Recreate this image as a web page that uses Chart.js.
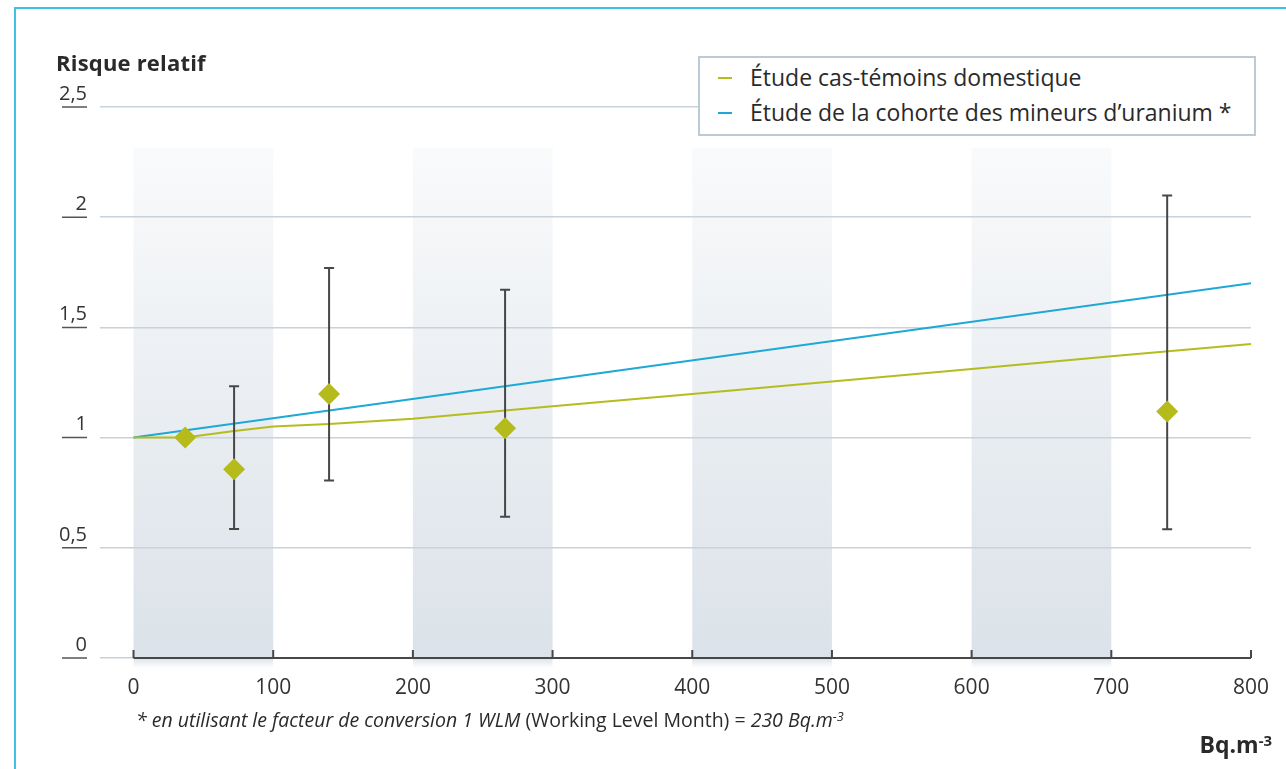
<!DOCTYPE html>
<html lang="fr">
<head>
<meta charset="utf-8">
<title>Risque relatif</title>
<script src="https://cdn.jsdelivr.net/npm/chart.js@4.4.1/dist/chart.umd.min.js"></script>
<style>
    body { margin: 0; background: #fff; overflow: hidden; font-family: 'Open Sans', sans-serif; color: #2a2a2a; }
    #page { position: relative; width: 1286px; height: 769px; }
    #cadre { position: absolute; left: 14px; top: 7px; width: 1300px; height: 800px;
             border-top: 2px solid #41c1e4; border-left: 2px solid #41c1e4; }
    canvas { position: absolute; left: 0; top: 0; }
    #titreY { position: absolute; left: 56px; top: 47px; font-weight: bold; font-size: 22px; letter-spacing: 0.2px; }
    #legende { position: absolute; left: 698px; top: 56px; width: 554px; height: 76px;
               border: 2px solid #bccbd3; background: #fff; font-size: 23px; }
    #legende div { position: absolute; left: 50px; white-space: nowrap; }
    #legende span { position: absolute; left: -32px; top: 16px; width: 14px; height: 2px; }
    #uniteX { position: absolute; right: 14px; top: 728px; font-weight: bold; font-size: 23px; }
    #uniteX sup, #note sup { font-size: 65%; vertical-align: 0; position: relative; top: -0.5em; }
    #note { position: absolute; left: 136px; top: 706px; font-size: 19.5px; letter-spacing: 0; white-space: nowrap; }
</style>
</head>
<body>
<div id="page">
    <div id="cadre"></div>
    <canvas id="graphRisque" width="1286" height="769"></canvas>
    <div id="titreY">Risque relatif</div>
    <div id="legende">
        <div style="top:3px"><span style="background:#b5bd1e"></span>Étude cas-témoins domestique</div>
        <div style="top:38px"><span style="background:#1ea8d6"></span>Étude de la cohorte des mineurs d’uranium *</div>
    </div>
    <div id="note"><i>* en utilisant le facteur de conversion 1 WLM</i> (Working Level Month) = <i>230 Bq.m<sup>-3</sup></i></div>
    <div id="uniteX">Bq.m<sup>-3</sup></div>
</div>

<script>
// valeurs
const xTicks = [0, 100, 200, 300, 400, 500, 600, 700, 800];
const yTicks = [0, 0.5, 1, 1.5, 2, 2.5];
const yTickLabels = ['0', '0,5', '1', '1,5', '2', '2,5'];

// étude cas-témoins domestique (courbe)
const domestiqueX = [0, 37, 72, 100, 140, 200, 300, 400, 500, 600, 700, 800];
const domestiqueY = [1.0, 1.0, 1.03, 1.05, 1.062, 1.085, 1.142, 1.198, 1.255, 1.311, 1.369, 1.425];

// cohorte des mineurs (droite)
const cohorteX = [0, 800];
const cohorteY = [1.0, 1.70];

// points avec intervalles de confiance
const pointsX = [37, 72, 140, 266, 740];
const pointsY = [1.0, 0.856, 1.198, 1.042, 1.118];
const pointsBas = [null, 0.585, 0.805, 0.641, 0.584];
const pointsHaut = [null, 1.233, 1.77, 1.671, 2.098];

// bandes grisées
const bandes = [[0, 100], [200, 300], [400, 500], [600, 700]];
const bandeHaut = 2.315;

const fondEtAxes = {
    id: 'fondEtAxes',
    beforeDraw(chart) {
        const { ctx, scales: { x, y } } = chart;
        const haut = y.getPixelForValue(bandeHaut);
        const axe = y.getPixelForValue(0);
        const bas = axe + 10;
        const grad = ctx.createLinearGradient(0, haut, 0, bas);
        grad.addColorStop(0, '#f9fafb');
        grad.addColorStop((axe - haut) / (bas - haut), '#dbe2e9');
        grad.addColorStop(1, 'rgba(219,226,233,0)');
        ctx.save();
        ctx.fillStyle = grad;
        bandes.forEach(([a, b]) => {
            const x0 = x.getPixelForValue(a);
            const x1 = x.getPixelForValue(b);
            ctx.fillRect(x0, haut, x1 - x0, bas - haut);
        });
        ctx.restore();
    },
    beforeDatasetsDraw(chart) {
        const { ctx, scales: { x, y } } = chart;
        const axe = y.getPixelForValue(0);
        ctx.save();
        ctx.strokeStyle = '#474747';
        ctx.lineWidth = 2;
        ctx.beginPath();
        ctx.moveTo(x.getPixelForValue(xTicks[0]), axe);
        ctx.lineTo(x.getPixelForValue(xTicks[xTicks.length - 1]), axe);
        xTicks.forEach(v => {
            const px = x.getPixelForValue(v);
            ctx.moveTo(px, axe);
            ctx.lineTo(px, axe - 8);
        });
        ctx.stroke();

        // petits traits sous les valeurs de l'axe Y
        ctx.strokeStyle = '#555';
        ctx.lineWidth = 1.5;
        ctx.beginPath();
        yTicks.forEach(v => {
            const py = y.getPixelForValue(v);
            ctx.moveTo(62, py);
            ctx.lineTo(87, py);
        });
        ctx.stroke();
        ctx.restore();
    },
    beforeDatasetDraw(chart, args) {
        if (args.index !== 0) return;
        const { ctx, scales: { x, y } } = chart;
        ctx.save();
        ctx.strokeStyle = '#474747';
        ctx.lineWidth = 2;
        ctx.beginPath();
        pointsX.forEach((v, i) => {
            if (pointsBas[i] === null) return;
            const px = x.getPixelForValue(v);
            const y0 = y.getPixelForValue(pointsBas[i]);
            const y1 = y.getPixelForValue(pointsHaut[i]);
            ctx.moveTo(px, y0);
            ctx.lineTo(px, y1);
            ctx.moveTo(px - 5, y0);
            ctx.lineTo(px + 5, y0);
            ctx.moveTo(px - 5, y1);
            ctx.lineTo(px + 5, y1);
        });
        ctx.stroke();
        ctx.restore();
    }
};

new Chart(document.getElementById('graphRisque'), {
    type: 'scatter',
    data: {
        datasets: [
            {
                label: 'Points',
                data: pointsX.map((v, i) => ({ x: v, y: pointsY[i] })),
                pointStyle: 'rectRot',
                pointRadius: 11,
                backgroundColor: '#b5bb1a',
                borderWidth: 0
            },
            {
                label: 'Étude cas-témoins domestique',
                data: domestiqueX.map((v, i) => ({ x: v, y: domestiqueY[i] })),
                showLine: true,
                pointRadius: 0,
                borderColor: '#b5bd1e',
                borderWidth: 2,
                tension: 0
            },
            {
                label: 'Étude de la cohorte des mineurs d’uranium *',
                data: cohorteX.map((v, i) => ({ x: v, y: cohorteY[i] })),
                showLine: true,
                pointRadius: 0,
                borderColor: '#1ea8d6',
                borderWidth: 2
            }
        ]
    },
    options: {
        responsive: false,
        animation: false,
        layout: {
            padding: { top: 107, right: 32, bottom: 71, left: 0 }
        },
        plugins: {
            legend: { display: false },
            tooltip: { enabled: false }
        },
        scales: {
            x: {
                type: 'linear',
                min: -24,
                max: 800,
                afterBuildTicks: scale => { scale.ticks = xTicks.map(v => ({ value: v })); },
                afterFit: scale => { scale.height = 40; },
                grid: { display: false, drawTicks: false },
                border: { display: false },
                ticks: {
                    padding: 17,
                    color: '#333',
                    font: { family: 'Open Sans', size: 21 },
                    maxRotation: 0,
                    callback: v => String(v)
                }
            },
            y: {
                min: 0,
                max: 2.5,
                afterBuildTicks: scale => { scale.ticks = yTicks.map(v => ({ value: v })); },
                afterFit: scale => { scale.width = 100; },
                grid: { color: '#c8d2da', lineWidth: 1.5, drawTicks: false },
                border: { display: false },
                ticks: {
                    padding: 13,
                    labelOffset: -13,
                    color: '#333',
                    font: { family: 'Open Sans', size: 20 },
                    callback: (v, i) => yTickLabels[i]
                }
            }
        }
    },
    plugins: [fondEtAxes]
});
</script>
</body>
</html>
